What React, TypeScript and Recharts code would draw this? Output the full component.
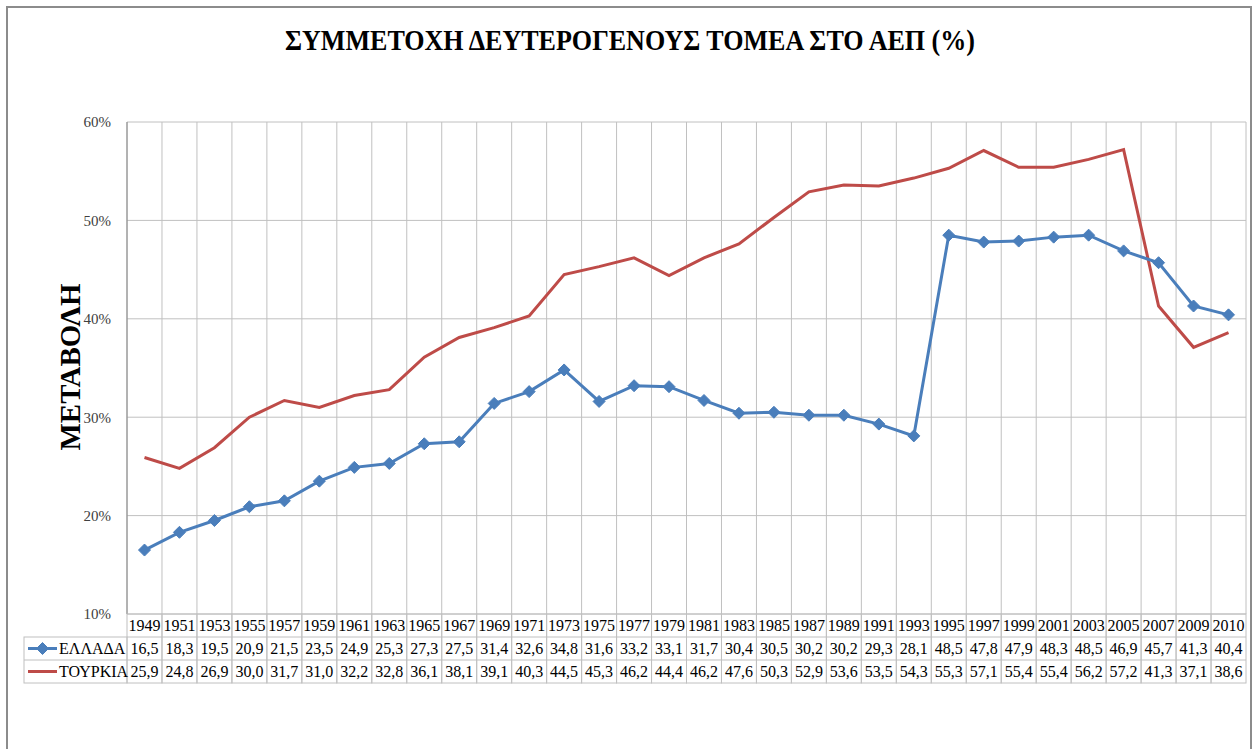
import { LineChart, Line, XAxis, YAxis, CartesianGrid } from "recharts";

const YEARS = [
  1949, 1951, 1953, 1955, 1957, 1959, 1961, 1963, 1965, 1967, 1969, 1971, 1973,
  1975, 1977, 1979, 1981, 1983, 1985, 1987, 1989, 1991, 1993, 1995, 1997, 1999,
  2001, 2003, 2005, 2007, 2009, 2010,
];
const GREECE = [
  16.5, 18.3, 19.5, 20.9, 21.5, 23.5, 24.9, 25.3, 27.3, 27.5, 31.4, 32.6, 34.8,
  31.6, 33.2, 33.1, 31.7, 30.4, 30.5, 30.2, 30.2, 29.3, 28.1, 48.5, 47.8, 47.9,
  48.3, 48.5, 46.9, 45.7, 41.3, 40.4,
];
const TURKEY = [
  25.9, 24.8, 26.9, 30.0, 31.7, 31.0, 32.2, 32.8, 36.1, 38.1, 39.1, 40.3, 44.5,
  45.3, 46.2, 44.4, 46.2, 47.6, 50.3, 52.9, 53.6, 53.5, 54.3, 55.3, 57.1, 55.4,
  55.4, 56.2, 57.2, 41.3, 37.1, 38.6,
];
const Y_TICKS = [10, 20, 30, 40, 50, 60];
const SERIES_NAMES = ["ΕΛΛΑΔΑ", "ΤΟΥΡΚΙΑ"];
const TITLE = "ΣΥΜΜΕΤΟΧΗ ΔΕΥΤΕΡΟΓΕΝΟΥΣ ΤΟΜΕΑ ΣΤΟ ΑΕΠ (%)";
const Y_TITLE = "ΜΕΤΑΒΟΛΗ";

const N = YEARS.length;
const data = YEARS.map((year, i) => ({
  x: i + 0.5,
  year,
  greece: GREECE[i],
  turkey: TURKEY[i],
}));

// layout
const W = 1253;
const H = 749;
const PLOT_L = 127;
const PLOT_R = 1246;
const PLOT_T = 122;
const PLOT_B = 614;
const BW = (PLOT_R - PLOT_L) / N;
const ROW_H = 23;
const KEY_L = 24;
const FONT = "Liberation Serif";
const GRID = "#c0c0c0";
const BLUE = "#4a7ebb";
const RED = "#be4b48";

const fmt = (v: number) => v.toFixed(1).replace(".", ",");

function Diamond(props: any) {
  const { cx, cy } = props;
  if (cx == null || cy == null) return null;
  const s = 6;
  return (
    <path
      d={`M${cx},${cy - s}L${cx + s},${cy}L${cx},${cy + s}L${cx - s},${cy}Z`}
      fill={BLUE}
      stroke={BLUE}
    />
  );
}

const cellText = { fontFamily: FONT, fontSize: 16 };

function TableTick(props: any) {
  const { x, payload, index } = props;
  const i = Math.round(payload.value - 0.5);
  const left = x - BW / 2;
  const rows = [String(YEARS[i]), fmt(GREECE[i]), fmt(TURKEY[i])];
  return (
    <g>
      <rect x={left} y={PLOT_B} width={BW} height={ROW_H * 3} fill="none" stroke={GRID} />
      <line x1={left} x2={left + BW} y1={PLOT_B + ROW_H} y2={PLOT_B + ROW_H} stroke={GRID} />
      <line x1={left} x2={left + BW} y1={PLOT_B + ROW_H * 2} y2={PLOT_B + ROW_H * 2} stroke={GRID} />
      {rows.map((t, r) => (
        <text
          key={r}
          x={x}
          y={PLOT_B + ROW_H * r + ROW_H / 2 + 5.5}
          textAnchor="middle"
          style={cellText}
          fill="#000"
        >
          {t}
        </text>
      ))}
      {index === 0 && (
        <g>
          <rect
            x={KEY_L}
            y={PLOT_B + ROW_H}
            width={PLOT_L - KEY_L}
            height={ROW_H * 2}
            fill="none"
            stroke={GRID}
          />
          <line x1={KEY_L} x2={PLOT_L} y1={PLOT_B + ROW_H * 2} y2={PLOT_B + ROW_H * 2} stroke={GRID} />
          <line x1={28} x2={57} y1={PLOT_B + ROW_H * 1.5} y2={PLOT_B + ROW_H * 1.5} stroke={BLUE} strokeWidth={3} />
          <Diamond cx={42.5} cy={PLOT_B + ROW_H * 1.5} />
          <line x1={28} x2={57} y1={PLOT_B + ROW_H * 2.5} y2={PLOT_B + ROW_H * 2.5} stroke={RED} strokeWidth={3} />
          {SERIES_NAMES.map((s, r) => (
            <text
              key={s}
              x={59}
              y={PLOT_B + ROW_H * (r + 1) + ROW_H / 2 + 5.5}
              style={cellText}
              fill="#000"
            >
              {s}
            </text>
          ))}
        </g>
      )}
    </g>
  );
}

export default function App() {
  return (
    <div style={{ position: "relative", width: W, height: H, background: "#fff", overflow: "hidden", fontFamily: FONT }}>
      <style>{"body{margin:0}"}</style>
      <LineChart
        width={W}
        height={H}
        data={data}
        margin={{ top: PLOT_T, right: W - PLOT_R, bottom: H - PLOT_B - 70, left: PLOT_L - 67 }}
      >
        <CartesianGrid
          stroke={GRID}
          verticalCoordinatesGenerator={({ offset }: any) =>
            Array.from({ length: N + 1 }, (_, k) => offset.left + (k * offset.width) / N)
          }
        />
        <XAxis
          type="number"
          dataKey="x"
          domain={[0, N]}
          ticks={data.map((d) => d.x)}
          interval={0}
          tickLine={false}
          axisLine={false}
          height={70}
          tick={<TableTick />}
        />
        <YAxis
          domain={[10, 60]}
          ticks={Y_TICKS}
          width={67}
          tickLine={false}
          axisLine={{ stroke: "#868686" }}
          tickFormatter={(v: number) => `${v}%`}
          tick={{ style: { fontFamily: FONT, fontSize: 15 }, fill: "#404040" }}
          tickMargin={10}
        />
        <Line
          type="linear"
          dataKey="turkey"
          stroke={RED}
          strokeWidth={3}
          dot={false}
          isAnimationActive={false}
        />
        <Line
          type="linear"
          dataKey="greece"
          stroke={BLUE}
          strokeWidth={3}
          dot={<Diamond />}
          activeDot={false}
          isAnimationActive={false}
        />
      </LineChart>
      <svg
        width={W}
        height={H}
        style={{ position: "absolute", left: 0, top: 0, pointerEvents: "none" }}
      >
        <rect x={7} y={7} width={1244} height={800} fill="none" stroke="#8c8c8c" strokeWidth={2} />
        <text
          x={630}
          y={50}
          textAnchor="middle"
          style={{ fontFamily: FONT, fontWeight: "bold", fontSize: 30 }}
          textLength={690}
          lengthAdjust="spacingAndGlyphs"
          fill="#000"
        >
          {TITLE}
        </text>
        <text
          transform="translate(80,367) rotate(-90)"
          textAnchor="middle"
          style={{ fontFamily: FONT, fontWeight: "bold", fontSize: 30 }}
          textLength={167}
          lengthAdjust="spacingAndGlyphs"
          fill="#000"
        >
          {Y_TITLE}
        </text>
      </svg>
    </div>
  );
}
